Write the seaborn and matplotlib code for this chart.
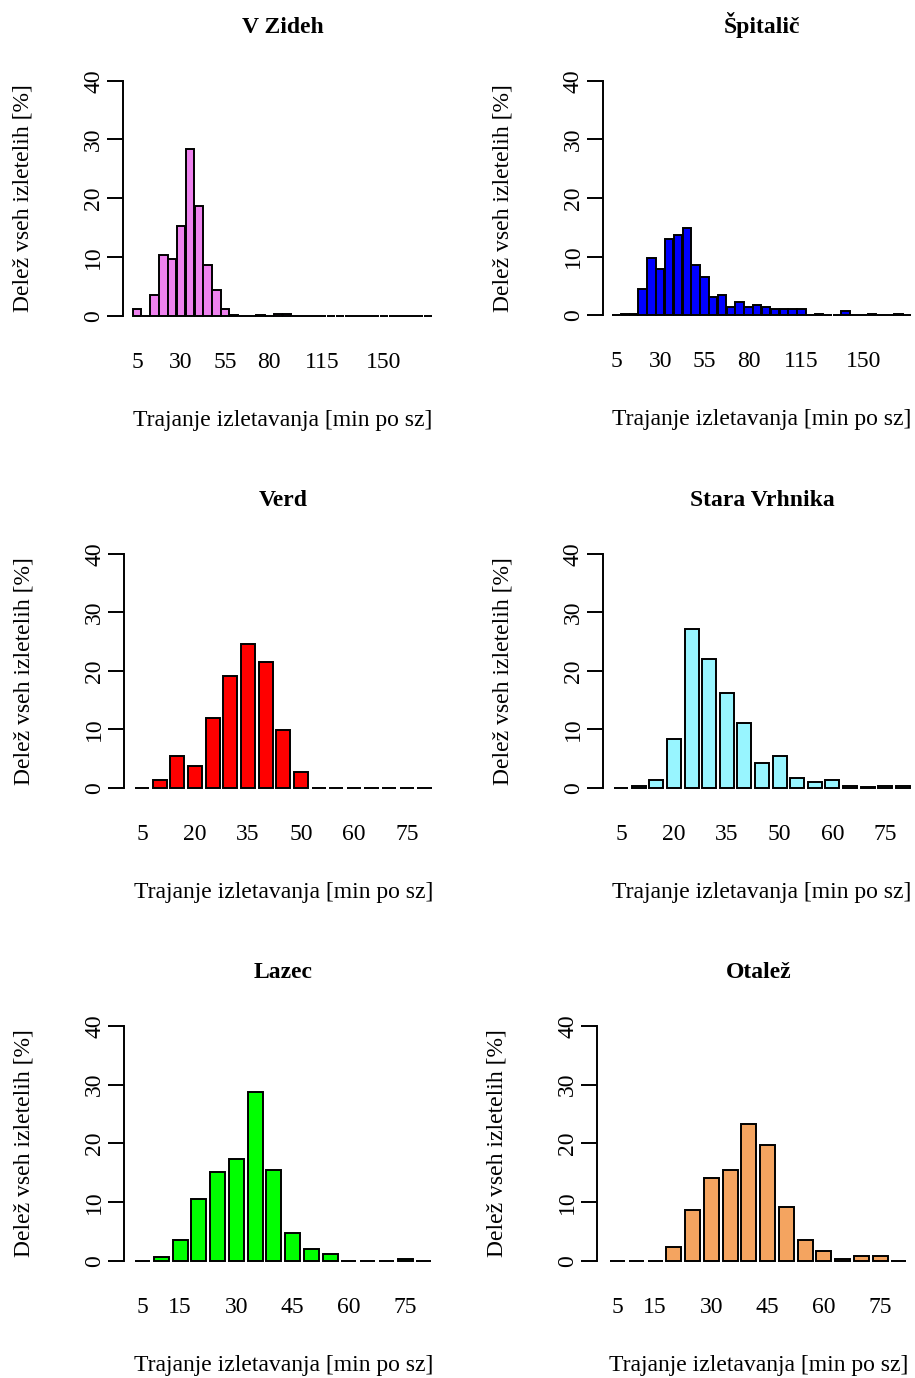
import numpy as np
import pandas as pd
import matplotlib
matplotlib.use("Agg")
import matplotlib.pyplot as plt
import seaborn as sns

# ---------------- data ----------------
titles = ["V Zideh", "Špitalič", "Verd", "Stara Vrhnika", "Lazec", "Otalež"]
colors = ["#EE82EE", "#0000FF", "#FF0000", "#98F5FF", "#00FF00", "#F4A460"]

vzideh = [1.1, 0, 3.5, 10.3, 9.6, 15.2, 28.4, 18.6, 8.6, 4.3, 1.1, 0.1,
          0, 0, 0.1, 0, 0.3, 0.3, 0, 0, 0, 0, 0, 0, 0, 0, 0, 0, 0, 0,
          0, 0, 0, 0]
spitalic = [0, 0.2, 0.2, 4.5, 9.7, 7.9, 13.0, 13.75, 14.8, 8.6, 6.6, 3.2,
            3.5, 1.4, 2.2, 1.4, 1.8, 1.5, 1.0, 1.0, 1.0, 1.0, 0, 0.3,
            0, 0, 0.8, 0, 0, 0.3, 0, 0, 0.3, 0]
verd = [0, 1.3, 5.4, 3.7, 12.0, 19.2, 24.6, 21.5, 9.9, 2.7, 0, 0, 0, 0, 0, 0, 0]
stara = [0, 0.3, 1.4, 8.3, 27.1, 22.0, 16.2, 11.0, 4.3, 5.4, 1.7, 1.0, 1.4,
         0.3, 0.1, 0.3, 0.3]
lazec = [0, 0.7, 3.5, 10.6, 15.1, 17.4, 28.7, 15.5, 4.8, 2.0, 1.1, 0, 0, 0, 0.3, 0]
otalez = [0, 0, 0, 2.4, 8.6, 14.1, 15.4, 23.3, 19.8, 9.2, 3.5, 1.7, 0.3, 0.8, 0.8, 0]

series = [vzideh, spitalic, verd, stara, lazec, otalez]

tick_idx_long = [0, 5, 10, 15, 21, 28]
tick_lab_long = ["5", "30", "55", "80", "115", "150"]
tick_idx_mid = [0, 3, 6, 9, 12, 15]
tick_lab_mid = ["5", "20", "35", "50", "60", "75"]
tick_idx_short = [0, 2, 5, 8, 11, 14]
tick_lab_short = ["5", "15", "30", "45", "60", "75"]
tick_idx = [tick_idx_long, tick_idx_long, tick_idx_mid, tick_idx_mid,
            tick_idx_short, tick_idx_short]
tick_lab = [tick_lab_long, tick_lab_long, tick_lab_mid, tick_lab_mid,
            tick_lab_short, tick_lab_short]
y_ticks = [0, 10, 20, 30, 40]

xlabel = "Trajanje izletavanja [min po sz]"
ylabel = "Delež vseh izletelih [%]"

# ---------------- style ----------------
sns.set_style("white")
plt.rcParams["font.family"] = ["Liberation Serif", "DejaVu Serif"]
plt.rcParams["text.color"] = "black"
plt.rcParams["axes.labelcolor"] = "black"
plt.rcParams["xtick.color"] = "black"
plt.rcParams["ytick.color"] = "black"

W, H = 915, 1378
PT = 0.72  # points per pixel at dpi 100
FS = 17
LW = 1.4

fig = plt.figure(figsize=(W / 100, H / 100), dpi=100)

# plot boxes in pixels (left, top, right, bottom)
boxes = [(132.6, 80.7, 432.5, 315.7), (611.7, 80.7, 911.7, 315.3),
         (133.3, 554.0, 433.3, 787.7), (612.3, 554.0, 911.7, 787.7),
         (133.3, 1026.0, 433.3, 1260.7), (608.3, 1026.0, 908.3, 1260.7)]
spine_off = [9.3, 9.0, 9.3, 9.6, 9.3, 11.0]
bar_width = [0.95, 0.95, 0.8, 0.8, 0.8, 0.8]

for i in range(6):
    l, t, r, b = boxes[i]
    ax = fig.add_axes([l / W, 1 - b / H, (r - l) / W, (b - t) / H])
    vals = series[i]
    n = len(vals)
    df = pd.DataFrame({"bin": np.arange(n), "pct": vals})
    sns.barplot(data=df, x="bin", y="pct", color=colors[i], saturation=1,
                edgecolor="black", linewidth=LW, width=bar_width[i],
                errorbar=None, ax=ax)
    for p in ax.patches:
        p.set_clip_on(False)
    ax.set_xlim(-0.5, n - 0.5)
    ax.set_ylim(0, 40)
    sns.despine(ax=ax, bottom=True, offset={"left": spine_off[i] * PT})
    ax.spines["left"].set_linewidth(LW)
    ax.spines["left"].set_color("black")
    ax.grid(False)

    ax.set_yticks(y_ticks)
    ax.set_yticklabels([str(v) for v in y_ticks])
    ax.tick_params(axis="y", left=True, direction="out", length=16 * PT,
                   width=LW, color="black", pad=3 * PT, labelsize=FS,
                   labelcolor="black")
    for lab in ax.get_yticklabels():
        lab.set_rotation(90)
        lab.set_va("center")
        lab.set_ha("right")

    ax.set_xticks(tick_idx[i])
    ax.set_xticklabels(tick_lab[i])
    ax.tick_params(axis="x", bottom=False, length=0, pad=36 * PT,
                   labelsize=FS, labelcolor="black")
    ax.set_xlabel("")
    ax.set_ylabel("")

    ax.annotate(titles[i], xy=(0.5, 1), xycoords="axes fraction",
                xytext=(0, 48 * PT), textcoords="offset points",
                ha="center", va="baseline", fontsize=FS, fontweight="bold",
                color="black")
    ax.annotate(xlabel, xy=(0.5, 0), xycoords="axes fraction",
                xytext=(0, -110 * PT), textcoords="offset points",
                ha="center", va="baseline", fontsize=FS, color="black")
    ax.annotate(ylabel, xy=(0, 0.5), xycoords="axes fraction",
                xytext=(-(spine_off[i] + 100) * PT, 0),
                textcoords="offset points", ha="center", va="center",
                rotation=90, fontsize=FS, color="black")

fig.savefig("out.png", dpi=100, facecolor="white")
